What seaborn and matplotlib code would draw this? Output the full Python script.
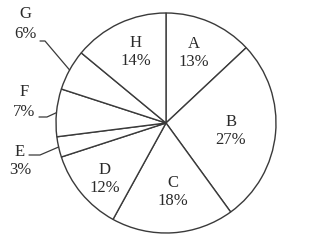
import numpy as np
import matplotlib
matplotlib.use("Agg")
import matplotlib.pyplot as plt
import seaborn as sns

labels = ["A", "B", "C", "D", "E", "F", "G", "H"]
values = [13, 27, 18, 12, 3, 7, 6, 14]

sns.set_theme(style="white")
plt.rcParams['font.family'] = ['Liberation Serif', 'DejaVu Serif']

W, H = 323, 240
fig = plt.figure(figsize=(W / 100, H / 100), dpi=100)
ax = fig.add_axes([0, 0, 1, 1])

cx, cy, R = 166, H - 123, 110
ax.pie(values, startangle=90, counterclock=False, center=(cx, cy), radius=R,
       colors=['white'] * len(values),
       wedgeprops=dict(edgecolor='#3a3a3a', linewidth=1.0), frame=True)
ax.set_xlim(0, W)
ax.set_ylim(0, H)
ax.set_aspect('equal')
ax.axis('off')

# label positions (pixel coords, y from top)
inside_pos = {"A": (194, 53), "H": (136, 52), "B": (231, 131),
              "C": (173, 192), "D": (105, 179)}
outside_pos = {"G": (25, 24), "F": (24, 102), "E": (20, 161)}
# leader start points (pixel coords) for outside labels
leader_start = {"G": [(40, 41), (45, 41)], "F": [(39, 117), (47, 117)],
                "E": [(29, 155), (40, 155)]}

fs = 12
tc = '#2a2a2a'
cum = np.cumsum([0] + values)
for i, lab in enumerate(labels):
    txt = f"{lab}\n{values[i]}%"
    mid = 90 - 360 * (cum[i] + values[i] / 2) / 100
    if lab in inside_pos:
        x, y = inside_pos[lab]
        ax.text(x, H - y, txt, ha='center', va='center', fontsize=fs,
                color=tc, linespacing=1.2)
    else:
        x, y = outside_pos[lab]
        ax.text(x, H - y, txt, ha='center', va='center', fontsize=fs,
                color=tc, linespacing=1.25)
        ex = cx + R * np.cos(np.radians(mid))
        ey = cy + R * np.sin(np.radians(mid))
        pts = leader_start[lab]
        xs = [p[0] for p in pts] + [ex]
        ys = [H - p[1] for p in pts] + [ey]
        ax.plot(xs, ys, color='#3a3a3a', lw=0.9)

fig.savefig("out.png", dpi=100)
